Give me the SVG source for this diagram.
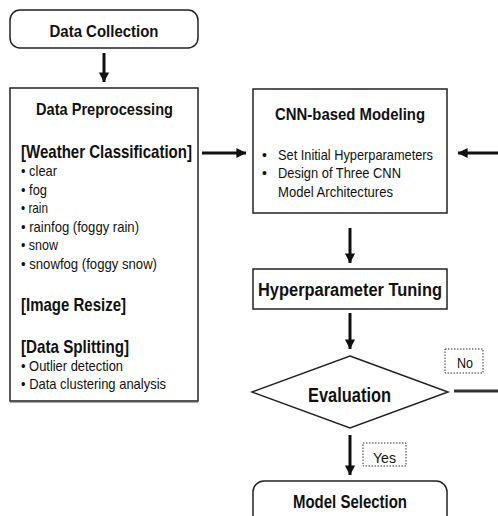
<svg xmlns="http://www.w3.org/2000/svg" width="498" height="516" viewBox="0 0 498 516">
<style>
.box{fill:#fff;stroke:#222;stroke-width:1.5}
.t{font-family:"Liberation Sans Narrow","Liberation Sans",Arial,sans-serif;fill:#111}
.b{font-weight:bold}
.c{text-anchor:middle}
.lbl{fill:#fff;stroke:#333;stroke-width:1;stroke-dasharray:1.5 1.5}
.ln{stroke:#111;stroke-width:3;fill:none}
</style>
<defs>
<marker id="ah" markerWidth="4" markerHeight="4" refX="3.2" refY="2" orient="auto" markerUnits="strokeWidth">
<path d="M0,0.3 L3.3,2 L0,3.7 Z" fill="#111"/>
</marker>
</defs>
<rect width="498" height="516" fill="#fff"/>
<g id="connectors">
<line class="ln" x1="104" y1="53" x2="104" y2="82" marker-end="url(#ah)"/>
<line class="ln" x1="202" y1="153" x2="246" y2="153" marker-end="url(#ah)"/>
<line class="ln" x1="498" y1="153" x2="458" y2="153" marker-end="url(#ah)"/>
<line class="ln" x1="350" y1="228" x2="350" y2="263" marker-end="url(#ah)"/>
<line class="ln" x1="350" y1="313" x2="350" y2="349" marker-end="url(#ah)"/>
<line class="ln" x1="350" y1="435" x2="350" y2="475" marker-end="url(#ah)"/>
<line x1="454" y1="391" x2="498" y2="391" stroke="#333" stroke-width="3"/>
</g>
<g id="data-collection">
<rect class="box" x="10" y="10" width="188" height="38" rx="10"/>
<text class="t b c" x="104" y="37" font-size="17" textLength="109" lengthAdjust="spacingAndGlyphs">Data Collection</text>
</g>
<g id="data-preprocessing">
<rect class="box" x="10" y="88" width="188" height="313"/>
<line x1="10" y1="401.5" x2="198" y2="401.5" stroke="#555" stroke-width="2"/>
<text class="t b c" x="104.5" y="115" font-size="17" textLength="137" lengthAdjust="spacingAndGlyphs">Data Preprocessing</text>
<text class="t b" x="21" y="158" font-size="19" textLength="171" lengthAdjust="spacingAndGlyphs">[Weather Classification]</text>
<text class="t" x="21" y="176" font-size="15" textLength="36" lengthAdjust="spacingAndGlyphs">• clear</text>
<text class="t" x="21" y="194.5" font-size="15" textLength="26" lengthAdjust="spacingAndGlyphs">• fog</text>
<text class="t" x="21" y="213" font-size="15" textLength="27" lengthAdjust="spacingAndGlyphs">• rain</text>
<text class="t" x="21" y="231.5" font-size="15" textLength="118" lengthAdjust="spacingAndGlyphs">• rainfog (foggy rain)</text>
<text class="t" x="21" y="250" font-size="15" textLength="37" lengthAdjust="spacingAndGlyphs">• snow</text>
<text class="t" x="21" y="268.5" font-size="15" textLength="136" lengthAdjust="spacingAndGlyphs">• snowfog (foggy snow)</text>
<text class="t b" x="21" y="311" font-size="19" textLength="105" lengthAdjust="spacingAndGlyphs">[Image Resize]</text>
<text class="t b" x="21" y="353" font-size="19" textLength="108" lengthAdjust="spacingAndGlyphs">[Data Splitting]</text>
<text class="t" x="21" y="371" font-size="15" textLength="102" lengthAdjust="spacingAndGlyphs">• Outlier detection</text>
<text class="t" x="21" y="389" font-size="15" textLength="145" lengthAdjust="spacingAndGlyphs">• Data clustering analysis</text>
</g>
<g id="cnn-modeling">
<rect class="box" x="253" y="89" width="194" height="124"/>
<text class="t b c" x="350" y="120" font-size="17" textLength="150" lengthAdjust="spacingAndGlyphs">CNN-based Modeling</text>
<text class="t" x="262" y="160" font-size="14">•</text>
<text class="t" x="278" y="160" font-size="15" textLength="155" lengthAdjust="spacingAndGlyphs">Set Initial Hyperparameters</text>
<text class="t" x="262" y="178" font-size="14">•</text>
<text class="t" x="278" y="178" font-size="15" textLength="123" lengthAdjust="spacingAndGlyphs">Design of Three CNN</text>
<text class="t" x="278" y="197" font-size="15" textLength="115" lengthAdjust="spacingAndGlyphs">Model Architectures</text>
</g>
<g id="hyperparameter-tuning">
<rect class="box" x="253" y="269" width="194" height="40"/>
<text class="t b c" x="350" y="296" font-size="18" textLength="184" lengthAdjust="spacingAndGlyphs">Hyperparameter Tuning</text>
</g>
<g id="evaluation">
<polygon class="box" points="350,356 448,392 350,428 252,392"/>
<text class="t b c" x="349.5" y="402" font-size="20" textLength="83" lengthAdjust="spacingAndGlyphs">Evaluation</text>
</g>
<g id="label-no">
<rect class="lbl" x="445" y="349" width="38" height="24"/>
<text class="t c" x="465" y="368" font-size="15" textLength="16" lengthAdjust="spacingAndGlyphs">No</text>
</g>
<g id="label-yes">
<rect class="lbl" x="363" y="443" width="43" height="23"/>
<text class="t c" x="384.5" y="463" font-size="15" textLength="23" lengthAdjust="spacingAndGlyphs">Yes</text>
</g>
<g id="model-selection">
<rect class="box" x="253" y="481" width="194" height="50" rx="11"/>
<text class="t b c" x="350" y="508" font-size="18" textLength="114" lengthAdjust="spacingAndGlyphs">Model Selection</text>
</g>
</svg>
